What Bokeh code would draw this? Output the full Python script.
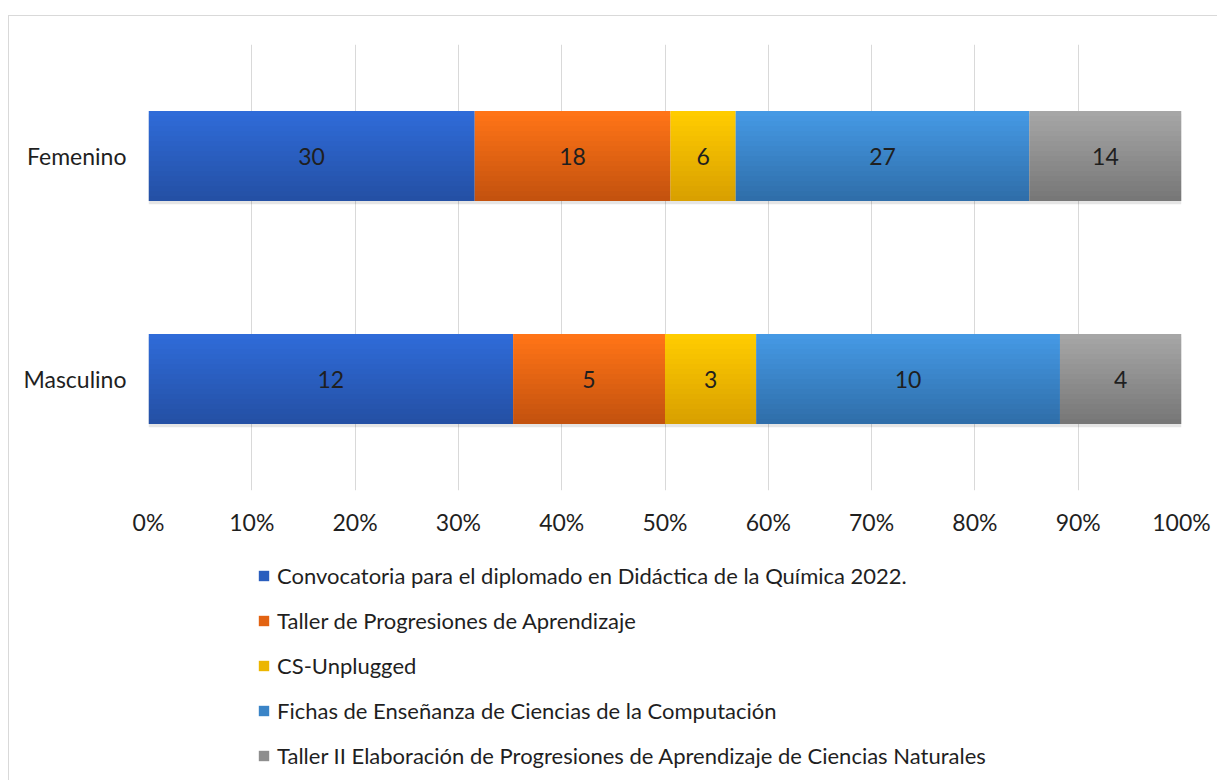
from bokeh.plotting import figure
from bokeh.layouts import column
from bokeh.models import (ColumnDataSource, FixedTicker, Legend, LegendItem,
                          NumeralTickFormatter, Range1d)
from bokeh.core.properties import value
from bokeh.embed import file_html
from bokeh.resources import INLINE

# ---------------- data ----------------
categories = ["Masculino", "Femenino"]
series = [
    "Convocatoria para el diplomado en Didáctica de la Química 2022.",
    "Taller de Progresiones de Aprendizaje",
    "CS-Unplugged",
    "Fichas de Enseñanza de Ciencias de la Computación",
    "Taller II Elaboración de Progresiones de Aprendizaje de Ciencias Naturales",
]
femenino = [30, 18, 6, 27, 14]
masculino = [12, 5, 3, 10, 4]
x_ticks = [0, 0.1, 0.2, 0.3, 0.4, 0.5, 0.6, 0.7, 0.8, 0.9, 1.0]

# ---------------- style ----------------
top_colors = ["#2f6bd8", "#ff7417", "#ffcc00", "#4599e4", "#a6a6a6"]
bot_colors = ["#2450a5", "#c4520e", "#d9a000", "#2f6eaa", "#777777"]
FONT = "Lato"
FS = "23px"
TXT = "#1f1f1f"


def hex2rgb(h):
    h = h.lstrip("#")
    return tuple(int(h[i:i + 2], 16) for i in (0, 2, 4))


def mix(a, b, t):
    ca, cb = hex2rgb(a), hex2rgb(b)
    return "#%02x%02x%02x" % tuple(round(ca[i] + (cb[i] - ca[i]) * t) for i in range(3))


p = figure(frame_width=1033, frame_height=446, output_backend="svg",
           toolbar_location=None,
           x_range=(0, 1), y_range=(-0.5, 1.5),
           min_border_left=139, min_border_right=36, min_border_top=28,
           min_border_bottom=50)
p.outline_line_color = None
p.background_fill_color = "white"

rows = {0: masculino, 1: femenino}
BAR_H = 0.404
N = 18
slice_h = BAR_H / N

# shadow
p.hbar(y=[yy - 0.014 for yy in rows], left=0, right=1.004, height=BAR_H,
       fill_color="#000000", fill_alpha=0.10, line_color=None)

for s in range(len(series)):
    ys, lefts, rights, cols = [], [], [], []
    for yy, vals in rows.items():
        tot = sum(vals)
        left = sum(vals[:s]) / tot
        right = sum(vals[:s + 1]) / tot
        for k in range(N):
            ys.append(yy + BAR_H / 2 - (k + 0.5) * slice_h)
            lefts.append(left)
            rights.append(right)
            cols.append(mix(top_colors[s], bot_colors[s], k / (N - 1)))
    src = ColumnDataSource(dict(y=ys, left=lefts, right=rights, c=cols))
    p.hbar(y="y", left="left", right="right", height=slice_h * 1.02,
           fill_color="c", line_color=None, source=src)

# value labels
lx, ly, lt = [], [], []
for yy, vals in rows.items():
    tot = sum(vals)
    cum = 0
    for v in vals:
        lx.append((cum + v / 2) / tot)
        ly.append(yy)
        lt.append(str(v))
        cum += v
p.text(x=lx, y=ly, text=lt, text_align="center", text_baseline="middle",
       text_font=value(FONT), text_font_size=FS, text_color=TXT)

# axes
p.xaxis.ticker = FixedTicker(ticks=x_ticks)
p.xaxis.formatter = NumeralTickFormatter(format="0%")
p.yaxis.ticker = FixedTicker(ticks=[0, 1])
p.yaxis.major_label_overrides = {0: categories[0], 1: categories[1]}
for ax in (p.xaxis[0], p.yaxis[0]):
    ax.axis_line_color = None
    ax.major_tick_line_color = None
    ax.minor_tick_line_color = None
    ax.major_label_text_font = FONT
    ax.major_label_text_font_size = FS
    ax.major_label_text_color = TXT
p.xaxis.major_label_standoff = 11
p.yaxis.major_label_standoff = 16

p.xgrid.ticker = FixedTicker(ticks=x_ticks)
p.xgrid.grid_line_color = "#d9d9d9"
p.ygrid.grid_line_color = None

# ---------------- legend figure ----------------
LH = 240
q = figure(width=1208, height=LH, output_backend="svg", toolbar_location=None,
           x_range=Range1d(0, 1208), y_range=Range1d(LH, 0),
           min_border=0)
q.axis.visible = False
q.grid.visible = False
q.outline_line_color = None

items = []
for s in range(len(series)):
    # off-screen proxy renderer, used only for the legend swatch
    r = q.rect(x=[-500], y=[-500], width=1, height=1,
               fill_color=mix(top_colors[s], bot_colors[s], 0.5), line_color=None)
    items.append(LegendItem(label=series[s], renderers=[r]))

legend = Legend(items=items, orientation="vertical", location=(109, 11),
                label_text_font=FONT, label_text_font_size="22px",
                label_text_color=TXT, glyph_width=13, glyph_height=13,
                label_standoff=7, label_height=28, spacing=17,
                border_line_color=None, background_fill_alpha=0,
                padding=0, margin=0)
q.add_layout(legend, "center")

layout = column(p, q, spacing=0)
layout.styles = {"margin-top": "15px", "margin-left": "8px",
                 "border-top": "1px solid #d9d9d9",
                 "border-left": "1px solid #d9d9d9"}

open("out.html", "w").write(file_html(layout, INLINE))
